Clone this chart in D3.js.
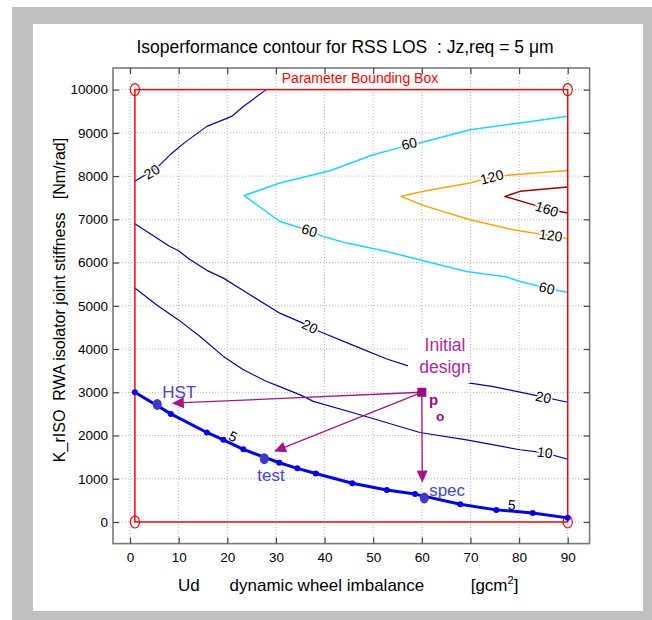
<!DOCTYPE html>
<html>
<head>
<meta charset="utf-8">
<script src="https://cdn.jsdelivr.net/npm/d3@7"></script>
<style>
  body { margin: 0; background: #fff; }
  text { font-family: "Liberation Sans", Arial, sans-serif; }
</style>
</head>
<body>
<div id="chart"></div>
<script>
// ---- data ----
const xTicks = d3.range(0, 91, 10);
const yTicks = d3.range(0, 10001, 1000);
const boxX = [1, 90];
const boxY = [0, 10000];

// contour lines [Ud, K]
const c20Upper = [[1,7880],[5.5,8190],[8.6,8530],[11.3,8780],[15.8,9150],[20.9,9380],[23.3,9610],[28,10000]];
const c20Mid = [[1,6900],[8.2,6370],[9.9,6280],[12.3,6070],[15.8,5820],[19.2,5640],[23.6,5330],[30.8,4830],
  [35.3,4610],[39.1,4400],[47.3,4020],[52.8,3770],[57.2,3610],[69.9,3210],[74.7,3130],[82.9,2940],[90,2770]];
const c10 = [[1,5410],[5.5,5020],[9.9,4680],[14.4,4290],[19.2,3830],[23.3,3520],[28.1,3250],[30.8,3130],
  [35,2940],[37.7,2790],[47.3,2480],[59.6,2070],[69.2,1900],[80.2,1670],[85.3,1600],[90,1450]];
const c60Upper = [[23.5,7550],[30.8,7840],[41.1,8125],[50,8495],[55.9,8670],[59.6,8766],[69.9,9074],[80.2,9228],[90,9385]];
const c60Lower = [[23.5,7550],[30.8,6950],[36.9,6740],[39.7,6605],[44.6,6450],[52.8,6257],[60.3,6042],[69.2,5794],
  [77.5,5664],[80.2,5563],[85.7,5410],[90,5308]];
const c120Upper = [[55.7,7530],[60.3,7647],[69.9,7840],[74.4,7975],[78.8,8032],[90,8132]];
const c120Lower = [[55.7,7530],[60.3,7322],[69.9,6991],[78.8,6759],[82.9,6682],[86.5,6628],[90,6551]];
const c160Upper = [[77.1,7530],[80.2,7647],[90,7747]];
const c160Lower = [[77.1,7530],[83.3,7322],[85.7,7238],[90,7146]];

// isoperformance curve Jz = 5 (marked points)
const iso5 = [[1,3000],[8.4,2500],[15.8,2070],[19.2,1900],[23.3,1680],[30.7,1370],[34.4,1240],[38.2,1120],
  [45.7,895],[52.8,740],[58.6,645],[67.9,410],[75.3,280],[82.8,210],[90,95]];

const designNames = ["HST", "test", "spec"];
const designPts = [[5.6,2720],[27.6,1465],[60.5,555]];
const designLabelPts = [[10.1,3000],[29,1090],[65.2,740]];

const initialDesign = [60, 3000];
const arrowTips = [[8.6,2747],[29.6,1628],[60.1,910]];

const contourLabels = [
  { t: "20", x: 4.5, y: 8100, on: c20Upper },
  { t: "20", x: 37, y: 4520, on: c20Mid },
  { t: "20", x: 85, y: 2886, on: c20Mid },
  { t: "10", x: 85.3, y: 1604, on: c10 },
  { t: "60", x: 57.4, y: 8750, on: c60Upper },
  { t: "60", x: 36.9, y: 6743, on: c60Lower },
  { t: "60", x: 85.7, y: 5409, on: c60Lower },
  { t: "120", x: 74.4, y: 7978, on: c120Upper },
  { t: "120", x: 86.5, y: 6628, on: c120Lower },
  { t: "160", x: 85.7, y: 7238, on: c160Lower },
  { t: "5", x: 21.2, y: 1975, on: iso5 },
  { t: "5", x: 78.5, y: 394, on: iso5 }
];

// ---- drawing ----
const W = 652, H = 620;
const svg = d3.select("#chart").append("svg")
  .attr("width", W)
  .attr("height", H);

// gray figure frame
svg.append("rect").attr("x", 12).attr("y", 7).attr("width", W - 12).attr("height", H - 7).attr("fill", "#c0c0c0");
svg.append("rect").attr("x", 33).attr("y", 24).attr("width", 610).attr("height", 587).attr("fill", "#fff");

const x = d3.scaleLinear().domain([-3.5, 94.5]).range([113, 589.6]);
const y = d3.scaleLinear().domain([-500, 10500]).range([543.6, 68]);
const [x0, x1] = x.range();
const [y0, y1] = y.range();

// grid
const grid = svg.append("g")
  .attr("stroke", "#b4b4b4")
  .attr("stroke-width", 1)
  .attr("stroke-dasharray", "1,2");
grid.selectAll(".gx").data(xTicks).enter().append("line")
  .attr("x1", d => x(d)).attr("x2", d => x(d))
  .attr("y1", y1).attr("y2", y0);
grid.selectAll(".gy").data(yTicks).enter().append("line")
  .attr("y1", d => y(d)).attr("y2", d => y(d))
  .attr("x1", x0).attr("x2", x1);

const line = d3.line().x(d => x(d[0])).y(d => y(d[1]));

function contour(pts, color, width) {
  svg.append("path")
    .attr("d", line(pts))
    .attr("fill", "none")
    .attr("stroke", color)
    .attr("stroke-width", width)
    .attr("stroke-linejoin", "round");
}
contour(c20Upper, "#0000b8", 1.2);
contour(c20Mid, "#0000b8", 1.2);
contour(c10, "#0000b8", 1.2);
contour(c60Upper.slice().reverse().concat(c60Lower.slice(1)), "#10dcff", 1.5);
contour(c120Upper.slice().reverse().concat(c120Lower.slice(1)), "#ffa500", 1.5);
contour(c160Upper.slice().reverse().concat(c160Lower.slice(1)), "#a00000", 1.5);

// parameter bounding box
const red = "#ff0000";
svg.append("rect")
  .attr("x", x(boxX[0])).attr("y", y(boxY[1]))
  .attr("width", x(boxX[1]) - x(boxX[0]))
  .attr("height", y(boxY[0]) - y(boxY[1]))
  .attr("fill", "none").attr("stroke", red).attr("stroke-width", 1.5);
const corners = [];
boxX.forEach(a => boxY.forEach(b => corners.push([a, b])));
svg.selectAll(".corner").data(corners).enter().append("ellipse")
  .attr("cx", d => x(d[0])).attr("cy", d => y(d[1]))
  .attr("rx", 4.6).attr("ry", 6)
  .attr("fill", "none").attr("stroke", red).attr("stroke-width", 1.2);
svg.append("text")
  .attr("x", 360).attr("y", 82.5)
  .attr("text-anchor", "middle")
  .attr("font-size", 14)
  .attr("fill", red)
  .text("Parameter Bounding Box");

// isoperformance curve
contour(iso5, "#0000ff", 3);
svg.selectAll(".mk").data(iso5).enter().append("circle")
  .attr("cx", d => x(d[0])).attr("cy", d => y(d[1]))
  .attr("r", 3).attr("fill", "#0000ff");

// arrows from the initial design
const purple = "#a8128a";
const p0 = [x(initialDesign[0]), y(initialDesign[1])];
arrowTips.forEach(t => {
  const tip = [x(t[0]), y(t[1])];
  const dx = p0[0] - tip[0], dy = p0[1] - tip[1];
  const len = Math.hypot(dx, dy);
  const ux = dx / len, uy = dy / len;
  const L = 12, hw = 5.5;
  const base = [tip[0] + ux * L, tip[1] + uy * L];
  svg.append("line")
    .attr("x1", p0[0]).attr("y1", p0[1])
    .attr("x2", base[0]).attr("y2", base[1])
    .attr("stroke", purple).attr("stroke-width", 1.3);
  svg.append("path")
    .attr("d", "M" + tip + "L" + [base[0] - uy * hw, base[1] + ux * hw] + "L" + [base[0] + uy * hw, base[1] - ux * hw] + "Z")
    .attr("fill", purple);
});

// "Initial design" text box (white background hides lines behind it)
svg.append("rect").attr("x", 408).attr("y", 333).attr("width", 62).attr("height", 50).attr("fill", "#fff");
const ini = svg.append("text")
  .attr("text-anchor", "middle")
  .attr("font-size", 17.5)
  .attr("fill", "#b5279a");
ini.append("tspan").attr("x", 445).attr("y", 351).text("Initial");
ini.append("tspan").attr("x", 445).attr("y", 372.5).text("design");

svg.append("rect")
  .attr("x", p0[0] - 4.5).attr("y", p0[1] - 4.5)
  .attr("width", 9).attr("height", 9)
  .attr("fill", "#a0087e");
svg.append("text").attr("x", 429).attr("y", 405)
  .attr("font-size", 15).attr("font-weight", "bold").attr("fill", "#a0087e").text("p");
svg.append("text").attr("x", 436).attr("y", 421)
  .attr("font-size", 13.5).attr("font-weight", "bold").attr("fill", "#a0087e").text("o");

// design points
const dotColor = "#3a3acc";
svg.selectAll(".dp").data(designPts).enter().append("ellipse")
  .attr("cx", d => x(d[0])).attr("cy", d => y(d[1]))
  .attr("rx", 4.5).attr("ry", 5.5)
  .attr("fill", dotColor);
svg.selectAll(".dl").data(designLabelPts).enter().append("text")
  .attr("x", d => x(d[0])).attr("y", d => y(d[1]) + 6)
  .attr("text-anchor", "middle")
  .attr("font-size", 17)
  .attr("fill", "#4545d4")
  .text((d, i) => designNames[i]);

// contour labels
function angleAt(pts, lx) {
  for (let i = 0; i < pts.length - 1; i++) {
    const a = pts[i], b = pts[i + 1];
    if ((lx - a[0]) * (lx - b[0]) <= 0) {
      return Math.atan2(y(b[1]) - y(a[1]), x(b[0]) - x(a[0])) * 180 / Math.PI;
    }
  }
  return 0;
}
svg.selectAll(".cl").data(contourLabels).enter().append("text")
  .attr("transform", d => "translate(" + x(d.x) + "," + y(d.y) + ") rotate(" + angleAt(d.on, d.x) + ")")
  .attr("text-anchor", "middle")
  .attr("dy", "0.35em")
  .attr("font-size", 14)
  .attr("fill", "#000")
  .attr("stroke", d => d.on === iso5 ? "none" : "#fff")
  .attr("stroke-width", 3)
  .attr("paint-order", "stroke")
  .text(d => d.t);

// axes box + ticks
svg.append("rect")
  .attr("x", x0).attr("y", y1)
  .attr("width", x1 - x0).attr("height", y0 - y1)
  .attr("fill", "none").attr("stroke", "#7a7a7a").attr("stroke-width", 1.6);

const fmt = d3.format("d");
const axB = svg.append("g").attr("transform", "translate(0," + y0 + ")")
  .call(d3.axisBottom(x).tickValues(xTicks).tickSize(-6).tickPadding(9).tickFormat(fmt));
const axT = svg.append("g").attr("transform", "translate(0," + y1 + ")")
  .call(d3.axisTop(x).tickValues(xTicks).tickSize(-6).tickFormat(""));
const axL = svg.append("g").attr("transform", "translate(" + x0 + ",0)")
  .call(d3.axisLeft(y).tickValues(yTicks).tickSize(-6).tickPadding(5).tickFormat(fmt));
const axR = svg.append("g").attr("transform", "translate(" + x1 + ",0)")
  .call(d3.axisRight(y).tickValues(yTicks).tickSize(-6).tickFormat(""));
[axB, axT, axL, axR].forEach(g => {
  g.select(".domain").remove();
  g.selectAll(".tick line").attr("stroke", "#444").attr("stroke-width", 1.2);
  g.selectAll("text")
    .attr("font-family", "'Liberation Sans', Arial, sans-serif")
    .attr("font-size", 13.5)
    .attr("fill", "#000");
});

// title and axis labels
svg.append("text")
  .attr("x", 345).attr("y", 52.5)
  .attr("text-anchor", "middle")
  .attr("font-size", 17.5)
  .style("white-space", "pre")
  .text("Isoperformance contour for RSS LOS  : Jz,req = 5 \u03bcm");

const xl = svg.append("text").attr("y", 591).attr("font-size", 17).attr("fill", "#000");
xl.append("tspan").attr("x", 178).text("Ud");
xl.append("tspan").attr("x", 229.6).text("dynamic wheel imbalance");
xl.append("tspan").attr("x", 470.7).text("[gcm");
xl.append("tspan").attr("dy", -7).attr("font-size", 11).text("2");
xl.append("tspan").attr("dy", 7).text("]");

svg.append("text")
  .attr("transform", "translate(65,300) rotate(-90)")
  .attr("text-anchor", "middle")
  .attr("font-size", 16)
  .style("white-space", "pre")
  .text("K_rISO  RWA isolator joint stiffness   [Nm/rad]");
</script>
</body>
</html>
